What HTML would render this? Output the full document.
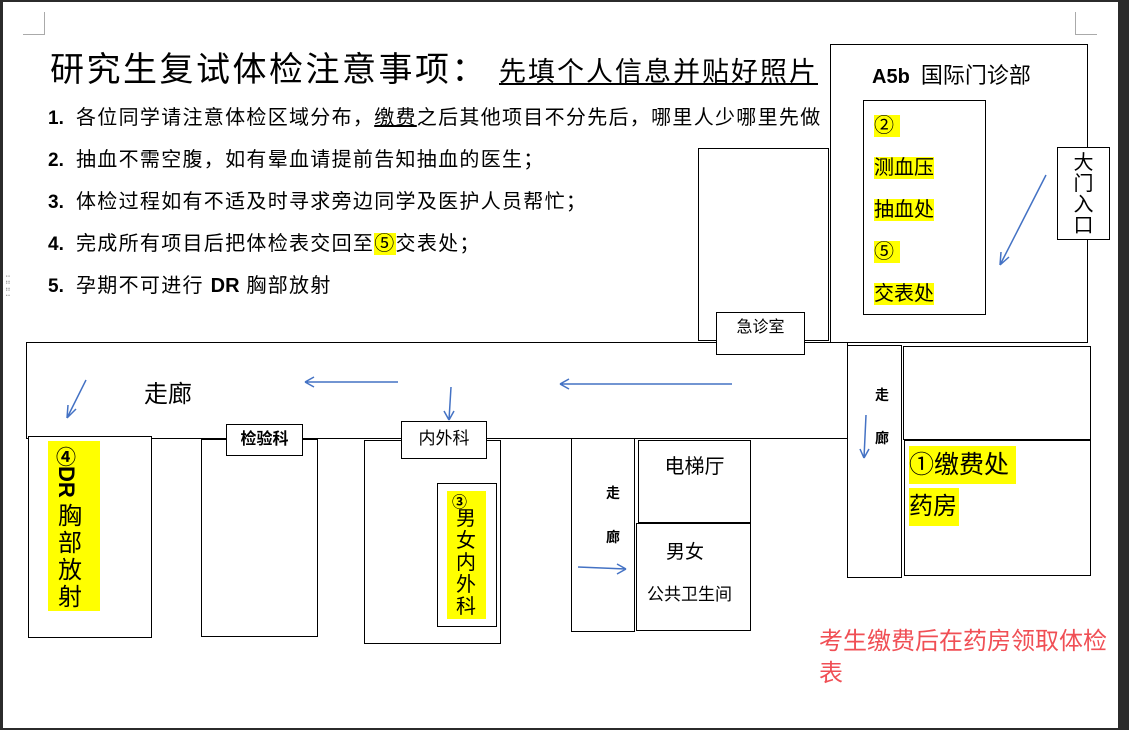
<!DOCTYPE html>
<html><head><meta charset="utf-8"><style>
*{margin:0;padding:0;box-sizing:border-box}
body{width:1129px;height:730px;position:relative;background:#fff;overflow:hidden;font-family:"Liberation Sans","Noto Sans CJK SC",sans-serif;color:#000}
.a{position:absolute}
.b{position:absolute;border:1.5px solid #000;background:#fff}
.y{background:#ff0}
.li{position:absolute;left:48px;font-size:20px;letter-spacing:1.3px;white-space:nowrap;line-height:26px}
.li b{display:inline-block;width:28px;letter-spacing:0;font-size:19px}
</style></head><body>
<div class="a" style="left:0;top:0;width:1129px;height:2px;background:#2b2b2b"></div>
<div class="a" style="left:0;top:0;width:3px;height:730px;background:#2b2b2b"></div>
<div class="a" style="left:1118px;top:0;width:11px;height:730px;background:#2b2b2b"></div>
<div class="a" style="left:0;top:728px;width:1129px;height:2px;background:#2b2b2b"></div>
<div class="a" style="left:23px;top:34px;width:22px;height:1px;background:#aaa"></div>
<div class="a" style="left:44px;top:12px;width:1px;height:23px;background:#aaa"></div>
<div class="a" style="left:1075px;top:34px;width:22px;height:1px;background:#aaa"></div>
<div class="a" style="left:1075px;top:12px;width:1px;height:23px;background:#aaa"></div>
<div class="a" style="left:5px;top:275px;color:#999;font-size:12px;line-height:7px;letter-spacing:-1px">::<br>::<br>::</div>

<div class="a" style="left:50px;top:48px;font-size:34px;letter-spacing:2.5px;white-space:nowrap;line-height:44px">研究生复试体检注意事项：</div>
<div class="a" style="left:499px;top:53px;font-size:27px;letter-spacing:2px;white-space:nowrap;line-height:38px;text-decoration:underline">先填个人信息并贴好照片</div>
<div class="li" style="top:105px"><b>1.</b>各位同学请注意体检区域分布，<u>缴费</u>之后其他项目不分先后，哪里人少哪里先做</div>
<div class="li" style="top:147px"><b>2.</b>抽血不需空腹，如有晕血请提前告知抽血的医生；</div>
<div class="li" style="top:189px"><b>3.</b>体检过程如有不适及时寻求旁边同学及医护人员帮忙；</div>
<div class="li" style="top:231px"><b>4.</b>完成所有项目后把体检表交回至<span class="y">⑤</span>交表处；</div>
<div class="li" style="top:273px"><b>5.</b>孕期不可进行 <b style="width:auto;font-size:20px">DR</b> 胸部放射</div>

<div class="b" style="left:698px;top:148px;width:131px;height:193px"></div>
<div class="b" style="left:830px;top:44px;width:258px;height:299px"></div>
<div class="a" style="left:872px;top:58px;font-size:20px;white-space:nowrap"><b>A5b</b>&nbsp; <span style="font-size:22px">国际门诊部</span></div>
<div class="b" style="left:863px;top:100px;width:123px;height:215px"></div>
<div class="a" style="left:874px;top:105px;font-size:20px;line-height:42px">
<span class="y">②&nbsp;</span><br><span class="y">测血压</span><br><span class="y">抽血处</span><br><span class="y">⑤&nbsp;</span><br><span class="y">交表处</span></div>
<div class="b" style="left:1057px;top:147px;width:53px;height:93px;font-size:20px;line-height:21px;text-align:center;padding-top:5px">大<br>门<br>入<br>口</div>

<div class="b" style="left:26px;top:342px;width:822px;height:97px"></div>
<div class="a" style="left:144px;top:374px;font-size:24px">走廊</div>
<div class="b" style="left:716px;top:312px;width:89px;height:43px;font-size:16px;text-align:center;line-height:30px">急诊室</div>

<div class="b" style="left:28px;top:436px;width:124px;height:202px"></div>
<div class="a y" style="left:48px;top:441px;width:52px;height:170px"></div>
<div class="a" style="left:56px;top:441px;font-size:20px;font-weight:bold">④</div>
<div class="a" style="left:53px;top:466px;font-size:22px;font-weight:bold;writing-mode:vertical-rl">DR</div>
<div class="a" style="left:58px;top:503px;font-size:24px;line-height:27px;width:26px">胸<br>部<br>放<br>射</div>

<div class="b" style="left:201px;top:439px;width:117px;height:198px"></div>
<div class="b" style="left:226px;top:424px;width:77px;height:32px;font-size:16px;font-weight:bold;text-align:center;line-height:29px">检验科</div>

<div class="b" style="left:364px;top:440px;width:137px;height:204px"></div>
<div class="b" style="left:401px;top:421px;width:86px;height:38px;font-size:17px;text-align:center;line-height:34px">内外科</div>
<div class="b" style="left:437px;top:483px;width:60px;height:144px"></div>
<div class="a y" style="left:447px;top:491px;width:39px;height:128px"></div>
<div class="a" style="left:452px;top:491px;font-size:15px;font-weight:bold">③</div>
<div class="a" style="left:456px;top:508px;font-size:20px;line-height:22px;width:22px">男<br>女<br>内<br>外<br>科</div>

<div class="b" style="left:571px;top:438px;width:64px;height:194px"></div>
<div class="a" style="left:606px;top:483px;font-size:14px;font-weight:bold">走</div>
<div class="a" style="left:606px;top:527px;font-size:14px;font-weight:bold">廊</div>
<div class="b" style="left:638px;top:440px;width:113px;height:83px;font-size:20px;text-align:center;line-height:52px">电梯厅</div>
<div class="b" style="left:636px;top:523px;width:115px;height:108px"></div>
<div class="a" style="left:666px;top:537px;font-size:19px">男女</div>
<div class="a" style="left:647px;top:580px;font-size:17px">公共卫生间</div>

<div class="b" style="left:847px;top:345px;width:55px;height:233px"></div>
<div class="a" style="left:875px;top:385px;font-size:14px;font-weight:bold">走</div>
<div class="a" style="left:875px;top:428px;font-size:14px;font-weight:bold">廊</div>
<div class="b" style="left:903px;top:346px;width:188px;height:94px"></div>
<div class="b" style="left:904px;top:440px;width:187px;height:136px"></div>
<div class="a y" style="left:909px;top:446px;width:107px;height:38px;font-size:25px;line-height:38px;white-space:nowrap;overflow:hidden">①缴费处</div>
<div class="a y" style="left:909px;top:488px;width:50px;height:38px;font-size:24px;line-height:38px;white-space:nowrap">药房</div>

<div class="a" style="left:819px;top:626px;font-size:24px;line-height:32px;color:#f04f55;width:300px">考生缴费后在药房领取体检表</div>

<svg class="a" style="left:0;top:0" width="1129" height="730" fill="none" stroke="#4472c4" stroke-width="1.5">
<path d="M86 380L67 418M67 418L68 405M67 418L76 409"/>
<path d="M398 382H305M305 382L314 377M305 382L314 387"/>
<path d="M451 387L449 420M449 420L444 411M449 420L454 411"/>
<path d="M732 384H560M560 384L569 379M560 384L569 389"/>
<path d="M578 567L626 569M626 569L617 564M626 569L617 574"/>
<path d="M866 415L864 458M864 458L860 449M864 458L869 449"/>
<path d="M1046 175L1000 265M1000 265L1001 252M1000 265L1009 257"/>
</svg>
</body></html>
